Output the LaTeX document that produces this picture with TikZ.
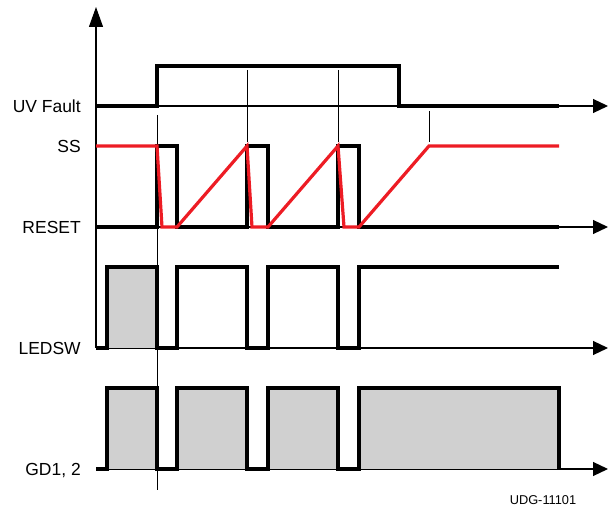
\documentclass[tikz,border=0pt]{standalone}
\usepackage{fontspec}
\setmainfont{Liberation Sans}
\usetikzlibrary{arrows.meta}
\definecolor{ssred}{HTML}{ED1C24}
\definecolor{fillgray}{HTML}{D0D0D0}
\begin{document}
\begin{tikzpicture}[x=0.75pt,y=-0.75pt,
  haxis/.style={line width=0.9pt,-{Triangle[length=11.25pt,width=10.5pt]}},
  vaxis/.style={line width=0.9pt,-{Triangle[length=15pt,width=10.5pt]}},
  sigline/.style={draw=black, line width=2.3pt, line join=miter},
  ramp/.style={draw=ssred, line width=2.4pt, line join=miter},
  marker/.style={line width=0.75pt},
  shade/.style={fill=fillgray, draw=none},
  lbl/.style={anchor=base east, inner sep=0pt, font=\fontsize{13.1pt}{15pt}\selectfont},
  tag/.style={anchor=center, inner sep=0pt, font=\fontsize{9.6pt}{11pt}\selectfont},
 ]
\useasboundingbox (0,0) rectangle (608,506);

% axes
\coordinate (vbot) at (96,348);
\coordinate (vtop) at (96,7);
\draw[vaxis] (vbot) -- (vtop);
\foreach \y/\n in {106/uv,227/rs,348/led,469/gd}{
  \coordinate (\n S) at (96,\y);
  \coordinate (\n E) at (608,\y);
  \draw[haxis] (\n S) -- (\n E);
}

% shaded regions
\fill[shade] (107,267) rectangle (157,348);
\fill[shade] (107,388) rectangle (157,469);
\fill[shade] (177,388) rectangle (247,469);
\fill[shade] (268,388) rectangle (338,469);
\fill[shade] (359,388) rectangle (559,469);

% marker lines
\draw[marker] (157,115) -- (157,490);
\draw[marker] (247,70) -- (247,142);
\draw[marker] (338,70) -- (338,142);
\draw[marker] (429,111) -- (429,142);

% UV Fault
\draw[sigline] (96,106) -- (157,106) -- (157,66) -- (399,66) -- (399,106) -- (559,106);

% RESET
\draw[sigline] (96,227) -- (157,227) -- (157,146) -- (177,146) -- (177,227)
  -- (247,227) -- (247,146) -- (268,146) -- (268,227)
  -- (338,227) -- (338,146) -- (359,146) -- (359,227) -- (559,227);

% SS
\draw[ramp] (96,146) -- (157,146) -- (162,227) -- (177,227) -- (247,146)
  -- (252,227) -- (268,227) -- (338,146) -- (344,227) -- (359,227)
  -- (429,146) -- (559,146);

% LEDSW
\draw[sigline] (96,348) -- (107,348) -- (107,267) -- (157,267) -- (157,348)
  -- (177,348) -- (177,267) -- (247,267) -- (247,348)
  -- (268,348) -- (268,267) -- (338,267) -- (338,348)
  -- (359,348) -- (359,267) -- (559,267);

% GD1, 2
\draw[sigline] (96,469) -- (107,469) -- (107,388) -- (157,388) -- (157,469)
  -- (177,469) -- (177,388) -- (247,388) -- (247,469)
  -- (268,469) -- (268,388) -- (338,388) -- (338,469)
  -- (359,469) -- (359,388) -- (559,388) -- (559,469);

% labels
\node[lbl] (luv) at (81,112.5) {UV Fault};
\node[lbl] (lss) at (81,152.5) {SS};
\node[lbl] (lrs) at (81,233.5) {RESET};
\node[lbl] (lled) at (81,354.5) {LEDSW};
\node[lbl] (lgd) at (81,475.5) {GD1, 2};
\node[tag] (udg) at (543,500) {UDG-11101};
\end{tikzpicture}
\end{document}
